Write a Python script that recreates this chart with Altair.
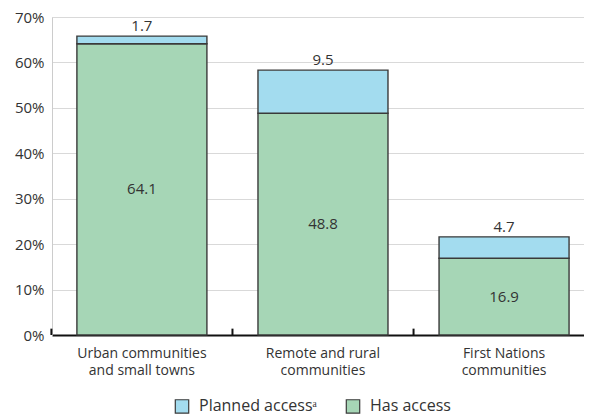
import altair as alt
import pandas as pd

categories = ["Urban communities and small towns", "Remote and rural communities", "First Nations communities"]
category_lines = [["Urban communities", "and small towns"], ["Remote and rural", "communities"], ["First Nations", "communities"]]
has_access = [64.1, 48.8, 16.9]
planned_access = [1.7, 9.5, 4.7]
series = ["Planned accessᵃ", "Has access"]
colors = ["#a3dcef", "#a6d6b6"]
y_ticks = [0, 10, 20, 30, 40, 50, 60, 70]

rows = []
for c, h, p in zip(categories, has_access, planned_access):
    rows.append({"cat": c, "series": series[1], "value": h, "order": 0, "start": 0, "end": h})
    rows.append({"cat": c, "series": series[0], "value": p, "order": 1, "start": h, "end": h + p})
df = pd.DataFrame(rows)

lbl = pd.DataFrame({
    "cat": categories,
    "mid": [h / 2 for h in has_access],
    "has": [f"{h:.1f}" for h in has_access],
    "top": [h + p for h, p in zip(has_access, planned_access)],
    "plan": [f"{p:.1f}" for p in planned_access],
})

label_map = "{" + ",".join(f"'{c}': {l!r}" for c, l in zip(categories, category_lines)) + "}"
label_expr = f"{label_map}[datum.value]"

FONT = "Open Sans"
TXT = "#333333"

xscale = alt.Scale(domain=categories, paddingInner=0.282, paddingOuter=0.11, align=0.625)
yscale = alt.Scale(domain=[0, 70], nice=False)

x_enc = alt.X("cat:N", scale=xscale, sort=categories, title=None,
              axis=alt.Axis(labelAngle=0, labelExpr=label_expr, ticks=False,
                            domainColor="#111111", domainWidth=2, labelPadding=11,
                            labelFontSize=14, labelColor=TXT, labelFont=FONT,
                            labelLineHeight=17, grid=False))

bars = alt.Chart(df).mark_bar(stroke="#3a3a3a", strokeWidth=1.4).encode(
    x=x_enc,
    y=alt.Y("start:Q", scale=yscale, title=None,
            axis=alt.Axis(values=y_ticks, labelExpr="datum.value + '%'", ticks=False,
                          domainColor="#cccccc", gridColor="#d9d9d9", labelFontSize=15,
                          labelColor=TXT, labelFont=FONT, labelPadding=8)),
    y2="end:Q",
    color=alt.Color("series:N", scale=alt.Scale(domain=series, range=colors), title=None,
                    legend=alt.Legend(orient="none", legendX=122, legendY=381, direction="horizontal",
                                      symbolType="square", symbolSize=180, symbolStrokeColor="#3a3a3a",
                                      symbolStrokeWidth=1.2, labelFontSize=16, labelFont=FONT,
                                      labelColor=TXT, columnPadding=26, labelOffset=9)),
    order=alt.Order("order:Q"),
)

inner = alt.Chart(lbl).mark_text(fontSize=15, font=FONT, color=TXT).encode(
    x=alt.X("cat:N", scale=xscale, sort=categories),
    y=alt.Y("mid:Q", scale=yscale),
    text="has:N",
)

top = alt.Chart(lbl).mark_text(fontSize=15, font=FONT, color=TXT, baseline="bottom", dy=-2).encode(
    x=alt.X("cat:N", scale=xscale, sort=categories),
    y=alt.Y("top:Q", scale=yscale),
    text="plan:N",
)

ticks = alt.Chart(lbl).mark_rule(color="#111111", strokeWidth=2).encode(
    x=alt.X("cat:N", scale=xscale, sort=categories, bandPosition=0),
    xOffset=alt.value(-25.5),
    y=alt.datum(0),
    y2=alt.datum(1.4),
)

chart = alt.layer(bars, inner, top, ticks).properties(
    width=532, height=318,
    autosize=alt.AutoSizeParams(type="none"),
    padding={"left": 44, "top": 9, "right": 0, "bottom": 80},
).configure_view(stroke=None).configure(font=FONT)

chart.save("out.html", embed_options={"renderer": "svg", "actions": False})
